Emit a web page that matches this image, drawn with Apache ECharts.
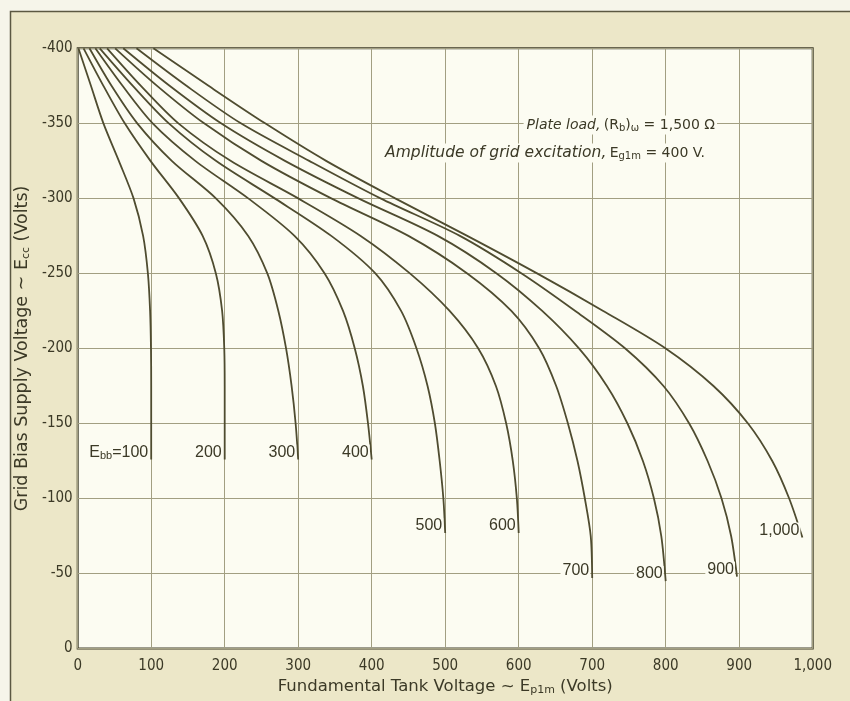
<!DOCTYPE html>
<html><head><meta charset="utf-8">
<script src="https://cdn.jsdelivr.net/npm/echarts@6/dist/echarts.min.js"></script>
<style>html,body{margin:0;padding:0;background:#f6f5ea;}#c{width:850px;height:701px;}</style>
</head><body><div id="c"></div>
<script>
// ---- data ----
const plateSupply = [100, 200, 300, 400, 500, 600, 700, 800, 900, 1000];
const curveLabels = ['100', '200', '300', '400', '500', '600', '700', '800', '900', '1,000'];
const xTickLabels = ['0', '100', '200', '300', '400', '500', '600', '700', '800', '900', '1,000'];

// [tank voltage, grid bias] pairs along each constant-Ebb curve
const ebb100 = [[1,-400],[18,-375],[35,-350],[56,-325],[76,-300],[89,-275],[95.5,-250],[98.5,-225],[99.7,-200],[100,-175],[100,-126]];
const ebb200 = [[8,-400],[35,-375],[64,-350],[99,-325],[138,-300],[170,-275],[188,-250],[196.5,-225],[199.4,-200],[200,-175],[200,-126]];
const ebb300 = [[16,-400],[46,-375],[81,-350],[128,-325],[188,-300],[232,-275],[258,-250],[273,-225],[283.5,-200],[291,-175],[296.5,-150],[300,-126]];
const ebb400 = [[24,-400],[61,-375],[102,-350],[160,-325],[232,-300],[295,-275],[336,-250],[361,-225],[377,-200],[388,-175],[395,-150],[400,-126]];
const ebb500 = [[30,-400],[75,-375],[124,-350],[188,-325],[268,-300],[345,-275],[405,-250],[440,-225],[461,-200],[476,-175],[486,-150],[492.5,-125],[497.5,-100],[500,-77]];
const ebb600 = [[40,-400],[86,-375],[137,-350],[208,-325],[300,-300],[385,-275],[452,-250],[506,-225],[545,-200],[569,-175],[583,-150],[592,-125],[597.5,-100],[600,-77]];
const ebb700 = [[51,-400],[108,-375],[172,-350],[250,-325],[345,-300],[450,-275],[530,-250],[590,-225],[628,-200],[651,-175],[667,-150],[680,-125],[690,-100],[698,-75],[700,-47]];
const ebb800 = [[62,-400],[125,-375],[195,-350],[282,-325],[382,-300],[490,-275],[570,-250],[632,-225],[682,-200],[720,-175],[748,-150],[769,-125],[784,-100],[794,-75],[800,-45]];
const ebb900 = [[80,-400],[148,-375],[222,-350],[315,-325],[412,-300],[520,-275],[604,-250],[677,-225],[745,-200],[797,-175],[832,-150],[857,-125],[876,-100],[889,-75],[897,-48]];
const ebb1000 = [[103,-400],[178,-375],[255,-350],[338,-325],[432,-300],[530,-275],[625,-250],[715,-225],[800,-200],[865,-175],[912,-150],[945,-125],[968,-100],[986,-74]];

const curves = [ebb100, ebb200, ebb300, ebb400, ebb500, ebb600, ebb700, ebb800, ebb900, ebb1000];

// ---- chart ----
const NARROW = "'Liberation Sans Narrow','DejaVu Sans Condensed','Liberation Sans',sans-serif";
const SANS = "'Liberation Sans','DejaVu Sans',sans-serif";
const WIDE = "'DejaVu Sans','Liberation Sans',sans-serif";
const INK = '#3b3926';
const CURVE = '#4f4c30';
const CREAM = '#fcfcf2';

const chart = echarts.init(document.getElementById('c'), null, {renderer: 'canvas'});

function subRich(family, size) {
  return {s: {fontSize: size, fontFamily: family, color: INK, padding: [7, 0, 0, 0]}};
}

const series = curves.map((pts, i) => ({
  type: 'line',
  name: 'Ebb=' + plateSupply[i],
  data: pts,
  smooth: 0.3,
  symbol: 'none',
  lineStyle: {color: CURVE, width: 1.8},
  z: 3,
  markPoint: {
    symbol: 'circle',
    symbolSize: 0,
    silent: true,
    data: [{coord: pts[pts.length - 1]}],
    label: {
      show: true,
      position: 'left',
      distance: 2,
      offset: [0, -7],
      color: INK,
      fontSize: 16,
      fontFamily: SANS,
      backgroundColor: CREAM,
      padding: [0, 1, 0, 2],
      formatter: i === 0 ? 'E{s|bb}=' + curveLabels[i] : curveLabels[i],
      rich: subRich(SANS, 11)
    }
  }
}));

const option = {
  animation: false,
  backgroundColor: '#f6f5ea',
  grid: {
    left: 77.7, right: 37.3, top: 48.3, bottom: 48.3,
    show: true, backgroundColor: CREAM, borderColor: '#3e3c2a', borderWidth: 2
  },
  xAxis: {
    type: 'value', min: 0, max: 1000, interval: 100,
    axisLine: {show: false}, axisTick: {show: false},
    splitLine: {show: true, lineStyle: {color: '#a29f82', width: 1}},
    axisLabel: {color: INK, fontSize: 15, fontFamily: NARROW, margin: 10,
      formatter: v => xTickLabels[Math.round(v / 100)]},
    name: 'Fundamental Tank Voltage ~ E{s|p1m} (Volts)',
    nameLocation: 'middle', nameGap: 28,
    nameTextStyle: {color: INK, fontSize: 16.5, fontFamily: WIDE, rich: subRich(WIDE, 11)}
  },
  yAxis: {
    type: 'value', min: -400, max: 0, interval: 50, inverse: true,
    axisLine: {show: false}, axisTick: {show: false},
    splitLine: {show: true, lineStyle: {color: '#a29f82', width: 1}},
    axisLabel: {color: INK, fontSize: 15, fontFamily: NARROW, margin: 5,
      formatter: v => (v === 0 ? '0' : String(v))},
    name: 'Grid Bias Supply Voltage ~ E{s|cc} (Volts)',
    nameLocation: 'middle', nameGap: 38,
    nameTextStyle: {color: INK, fontSize: 17.5, fontFamily: WIDE, rich: subRich(WIDE, 11)}
  },
  graphic: [
    {type: 'rect', z: -10, silent: true,
      shape: {x: 10.5, y: 11.5, width: 900, height: 760},
      style: {fill: '#ece7c8', stroke: '#5b5842', lineWidth: 1.5}},
    {type: 'text', z: 100, silent: true, x: 717, y: 125,
      style: {
        text: '{i|Plate load,} {n|(R}{s|b}{n|)}{s|ω}{n| = 1,500 Ω}',
        align: 'right', verticalAlign: 'middle',
        backgroundColor: CREAM, padding: [1, 2, 1, 3],
        rich: {
          i: {fontSize: 14, fontStyle: 'italic', fontFamily: WIDE, fill: INK},
          n: {fontSize: 14, fontFamily: WIDE, fill: INK},
          s: {fontSize: 10, fontFamily: WIDE, fill: INK, padding: [7, 0, 0, 0]}
        }
      }},
    {type: 'text', z: 100, silent: true, x: 707, y: 153,
      style: {
        text: '{i|Amplitude of grid excitation,} {n|E}{s|g1m}{n| = 400 V.}',
        align: 'right', verticalAlign: 'middle',
        backgroundColor: CREAM, padding: [1, 2, 1, 3],
        rich: {
          i: {fontSize: 15.5, fontStyle: 'italic', fontFamily: WIDE, fill: INK},
          n: {fontSize: 14, fontFamily: WIDE, fill: INK},
          s: {fontSize: 10, fontFamily: WIDE, fill: INK, padding: [7, 0, 0, 0]}
        }
      }}
  ],
  series: series
};

chart.setOption(option);
</script>
</body></html>
